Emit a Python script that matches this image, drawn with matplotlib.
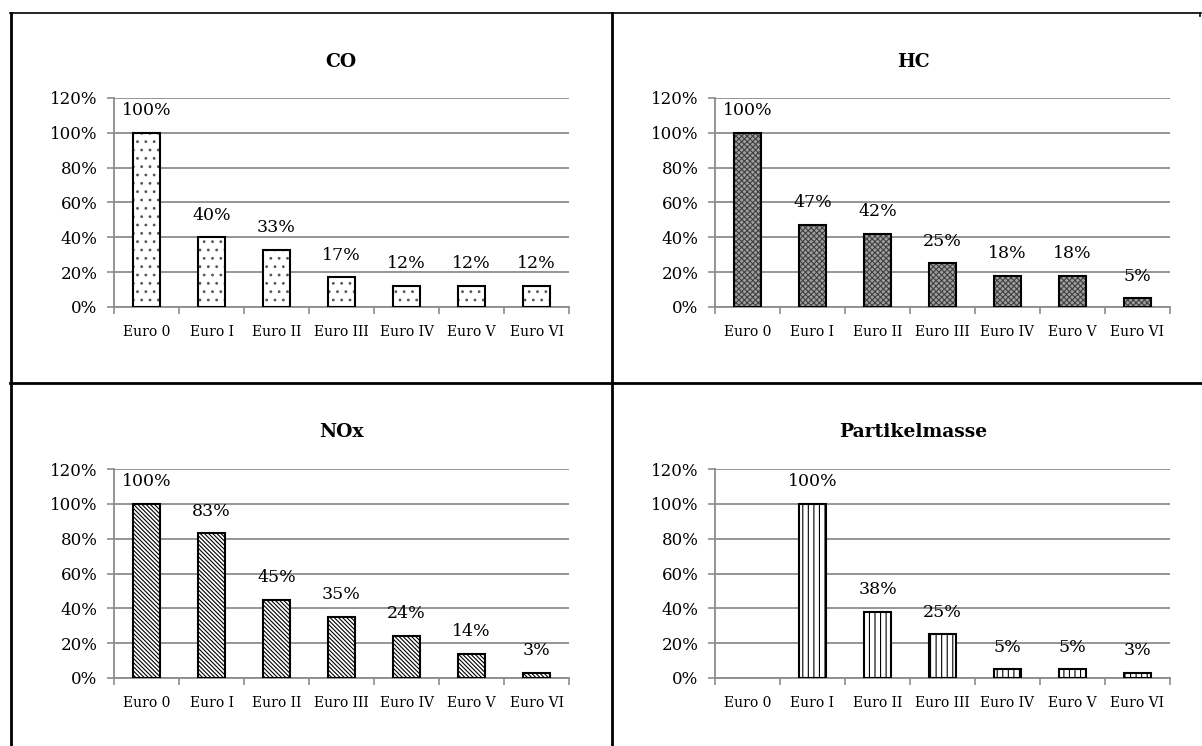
import numpy as np
import matplotlib
matplotlib.use('Agg')
import matplotlib.pyplot as plt
from matplotlib.lines import Line2D

# emission limits relative to Euro 0 (percent)
categories = ['Euro 0', 'Euro I', 'Euro II', 'Euro III', 'Euro IV', 'Euro V', 'Euro VI']
co_vals = [100, 40, 33, 17, 12, 12, 12]
hc_vals = [100, 47, 42, 25, 18, 18, 5]
nox_vals = [100, 83, 45, 35, 24, 14, 3]
pm_vals = [np.nan, 100, 38, 25, 5, 5, 3]
titles = ['CO', 'HC', 'NOx', 'Partikelmasse']

W, H = 1202, 746
plt.rcParams['font.family'] = 'DejaVu Serif'
plt.rcParams['hatch.linewidth'] = 0.8

fig = plt.figure(figsize=(W / 100, H / 100), dpi=100)

GRID = '#8c8c8c'


def px_axes(left, right, y0, ytop):
    return fig.add_axes([left / W, 1 - y0 / H, (right - left) / W, (y0 - ytop) / H])


def draw_panel(ax, vals, face, hatch, hcolor):
    x = np.arange(len(categories))
    v = np.array(vals, dtype=float) / 100.0
    ax.set_axisbelow(True)
    ax.yaxis.grid(True, color=GRID, linewidth=1.3)
    # fill + pattern first, then the black outline on top
    ax.bar(x, v, 0.42, color=face, edgecolor=hcolor, hatch=hatch,
           linewidth=0, zorder=3)
    ax.bar(x, v, 0.42, fill=False, edgecolor='black', linewidth=1.5, zorder=4)
    for xi, val in zip(x, vals):
        if np.isnan(val):
            continue
        ax.annotate('%d%%' % val, (xi, val / 100.0), xytext=(0, 16),
                    textcoords='offset points', ha='center', va='center',
                    fontsize=12.5)
    ax.set_xlim(-0.5, len(categories) - 0.5)
    ax.set_ylim(0, 1.2)
    ticks = np.arange(0, 1.21, 0.2)
    ax.set_yticks(ticks)
    ax.set_yticklabels(['%d%%' % round(t * 100) for t in ticks], fontsize=12)
    ax.set_xticks(x)
    ax.set_xticklabels(categories, fontsize=10)
    ax.set_xticks(np.arange(-0.5, len(categories)), minor=True)
    ax.tick_params(axis='x', which='major', length=0, pad=13)
    ax.tick_params(axis='x', which='minor', length=5, width=1.2, color=GRID)
    ax.tick_params(axis='y', length=5, width=1.2, color=GRID, pad=7)
    for s in ['top', 'right']:
        ax.spines[s].set_visible(False)
    for s in ['left', 'bottom']:
        ax.spines[s].set_color(GRID)
        ax.spines[s].set_linewidth(1.3)


panels = [
    (co_vals, 'white', '..', '#555555', (114, 569, 307, 98), (341, 62)),
    (hc_vals, '#a0a0a0', 'xxxxxx', '#404040', (715, 1170, 307, 98), (913, 62)),
    (nox_vals, 'white', '\\' * 8, 'black', (114, 569, 678, 469), (341, 432)),
    (pm_vals, 'white', '|||', 'black', (715, 1170, 678, 469), (913, 432)),
]

for (vals, face, hatch, hcolor, box, tpos), title in zip(panels, titles):
    ax = px_axes(*box)
    draw_panel(ax, vals, face, hatch, hcolor)
    fig.text(tpos[0] / W, 1 - tpos[1] / H, title, ha='center', va='center',
             fontsize=13.5, fontweight='bold')


# table frame around the four charts
def hline(y, x0, x1, lw):
    fig.add_artist(Line2D([x0 / W, x1 / W], [1 - y / H, 1 - y / H],
                          color='black', linewidth=lw))


def vline(x, y0, y1, lw):
    fig.add_artist(Line2D([x / W, x / W], [1 - y0 / H, 1 - y1 / H],
                          color='black', linewidth=lw))


hline(13, 10, 1201, 1.2)
hline(383, 10, 1202, 2.0)
vline(11, 13, 746, 2.0)
vline(612, 13, 746, 2.0)
vline(1200, 13, 16, 1.2)

fig.savefig('out.png', dpi=100)
